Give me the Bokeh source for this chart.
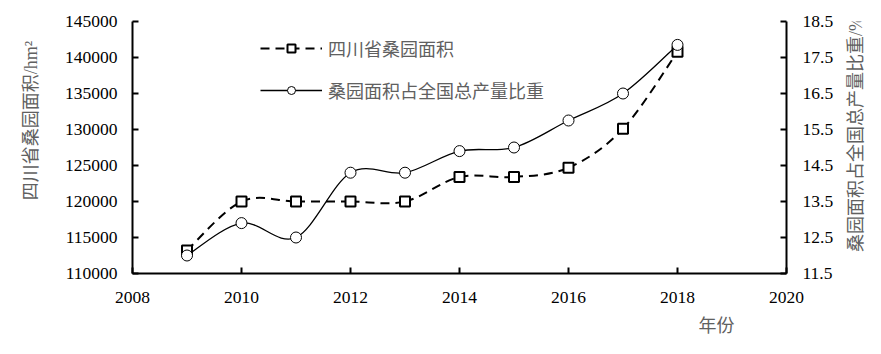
import math
from bokeh.plotting import figure
from bokeh.layouts import row
from bokeh.models import (Range1d, LinearAxis, FixedTicker, NumeralTickFormatter,
                          Legend, LegendItem, ColumnDataSource, Title, Label)
from bokeh.embed import file_html
from bokeh.resources import INLINE

# ---------------- data ----------------
years = [2009, 2010, 2011, 2012, 2013, 2014, 2015, 2016, 2017, 2018]
area = [113200, 120000, 120000, 120000, 120000, 123400, 123400, 124700, 130100, 140800]
share = [12.0, 12.9, 12.5, 14.3, 14.3, 14.9, 15.0, 15.75, 16.5, 17.85]

x_ticks = [2008, 2010, 2012, 2014, 2016, 2018, 2020]
left_ticks = [110000, 115000, 120000, 125000, 130000, 135000, 140000, 145000]
right_ticks = [11.5, 12.5, 13.5, 14.5, 15.5, 16.5, 17.5, 18.5]

name_area = "四川省桑园面积"
name_share = "桑园面积占全国总产量比重"
ylabel_left = "四川省桑园面积/hm²"
ylabel_right = "桑园面积占全国总产量比重/%"
xlabel = "年份"

SERIF = "Liberation Serif"
CJK = "'Liberation Serif', 'Noto Sans CJK SC'"
GRAY = "#606060"
H = 354


def smooth_segments(xs, ys):
    """Bezier segments (Excel-like smoothing) through the given points."""
    n = len(xs)
    d = dict(x0=[], y0=[], x1=[], y1=[], cx0=[], cy0=[], cx1=[], cy1=[])
    for i in range(n - 1):
        xp, yp = (xs[i - 1], ys[i - 1]) if i > 0 else (xs[i], ys[i])
        xn, yn = (xs[i + 2], ys[i + 2]) if i + 2 < n else (xs[i + 1], ys[i + 1])
        d["x0"].append(xs[i]); d["y0"].append(ys[i])
        d["x1"].append(xs[i + 1]); d["y1"].append(ys[i + 1])
        d["cx0"].append(xs[i] + (xs[i + 1] - xp) / 6.0)
        d["cy0"].append(ys[i] + (ys[i + 1] - yp) / 6.0)
        d["cx1"].append(xs[i + 1] - (xn - xs[i]) / 6.0)
        d["cy1"].append(ys[i + 1] - (yn - ys[i]) / 6.0)
    return ColumnDataSource(d)


def title_strip(width, text, cx, cy):
    """Narrow figure holding a vertical axis title (reads bottom to top)."""
    s = figure(width=width, height=H, output_backend="svg", toolbar_location=None,
               title=None, x_range=Range1d(0, width), y_range=Range1d(0, H),
               x_axis_location=None, y_axis_location=None, min_border=0)
    s.outline_line_color = None
    s.grid.grid_line_color = None
    s.background_fill_color = "white"
    s.border_fill_color = "white"
    s.add_layout(Label(x=cx, y=H - cy, text=text, angle=math.pi / 2,
                       text_align="center", text_baseline="middle",
                       text_font=CJK, text_font_size="18px", text_color=GRAY))
    return s


p = figure(width=791, height=H, output_backend="svg", toolbar_location=None,
           x_range=Range1d(2008, 2020), y_range=Range1d(110000, 145000),
           min_border_left=87, min_border_right=50, min_border_top=21,
           min_border_bottom=81)
p.extra_y_ranges = {"right": Range1d(11.5, 18.5)}
p.outline_line_color = None
p.xgrid.visible = False
p.ygrid.visible = False
p.background_fill_color = "white"
p.border_fill_color = "white"

# axes
p.xaxis.ticker = FixedTicker(ticks=x_ticks)
p.yaxis.ticker = FixedTicker(ticks=left_ticks)
p.yaxis.formatter = NumeralTickFormatter(format="0")
right_axis = LinearAxis(y_range_name="right", ticker=FixedTicker(ticks=right_ticks),
                        formatter=NumeralTickFormatter(format="0.0"))
p.add_layout(right_axis, "right")

for ax in [p.xaxis[0], p.yaxis[0], right_axis]:
    ax.axis_line_width = 2
    ax.axis_line_color = "black"
    ax.major_tick_line_width = 2
    ax.major_tick_line_color = "black"
    ax.major_tick_in = 6
    ax.major_tick_out = 0
    ax.minor_tick_line_color = None
    ax.major_label_text_font = SERIF
    ax.major_label_text_font_size = "17.5px"
    ax.major_label_text_color = "black"
p.xaxis.major_label_standoff = 18
p.yaxis[0].major_label_standoff = 15
right_axis.major_label_standoff = 16

# series: area (left axis), dashed with squares
seg_a = smooth_segments(years, area)
bz_a = p.bezier(x0="x0", y0="y0", x1="x1", y1="y1", cx0="cx0", cy0="cy0", cx1="cx1",
                cy1="cy1", source=seg_a, line_color="black", line_width=2, line_dash="9 6")
sq = p.scatter(years, area, marker="square", size=10, fill_color="white",
               line_color="black", line_width=2)

# series: share (right axis), solid with circles
seg_s = smooth_segments(years, share)
bz_s = p.bezier(x0="x0", y0="y0", x1="x1", y1="y1", cx0="cx0", cy0="cy0", cx1="cx1",
                cy1="cy1", source=seg_s, line_color="black", line_width=1.3,
                y_range_name="right")
ci = p.scatter(years, share, marker="circle", size=11, fill_color="white",
               line_color="black", line_width=1, y_range_name="right")

# legend
legend = Legend(items=[LegendItem(label=name_area, renderers=[bz_a, sq]),
                       LegendItem(label=name_share, renderers=[bz_s, ci])],
                location=(128, 170), glyph_width=62, glyph_height=20,
                label_height=20, spacing=16, padding=0, margin=0,
                label_standoff=6, border_line_color=None,
                background_fill_alpha=0,
                label_text_font=CJK, label_text_font_size="18px",
                label_text_color=GRAY)
p.add_layout(legend, "center")

# x axis title
p.add_layout(Title(text=xlabel, align="left", offset=566, standoff=17,
                   text_font=CJK, text_font_size="18px", text_font_style="normal",
                   text_color=GRAY), "below")

left_strip = title_strip(45, ylabel_left, 30, 139)
right_strip = title_strip(45, ylabel_right, 19, 158)

layout = row(left_strip, p, right_strip, spacing=0)
open("out.html", "w").write(file_html(layout, INLINE))
